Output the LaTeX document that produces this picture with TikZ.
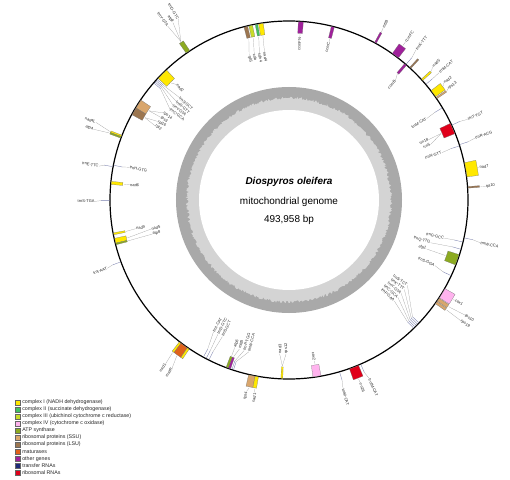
\documentclass[tikz,border=0pt]{standalone}
\usepackage{fontspec}
\setmainfont{Liberation Sans}
\usetikzlibrary{positioning}

\definecolor{cI}{HTML}{FFE800}
\definecolor{cII}{HTML}{40C060}
\definecolor{cIII}{HTML}{C8DC28}
\definecolor{cIV}{HTML}{FFB3EE}
\definecolor{atp}{HTML}{8CAA20}
\definecolor{ssu}{HTML}{D9A66C}
\definecolor{lsu}{HTML}{9C7650}
\definecolor{mat}{HTML}{E0621A}
\definecolor{oth}{HTML}{A0209B}
\definecolor{trna}{HTML}{1E2A78}
\definecolor{rrna}{HTML}{E0001A}
\definecolor{gcdark}{HTML}{A9A9A9}
\definecolor{gclight}{HTML}{D4D4D4}

% gene on the outer strand: name, colour, start angle, end angle
\newcommand{\geneout}[4]{%
  \fill[#2, draw=black!55, line width=0.2bp] (#3:179.5) arc[start angle=#3, end angle=#4, radius=179.5bp]
    -- (#4:191) arc[start angle=#4, end angle=#3, radius=191bp] -- cycle;
  \coordinate (#1) at ({(#3+#4)/2}:192);}
% gene on the inner strand
\newcommand{\genein}[4]{%
  \fill[#2, draw=black!55, line width=0.2bp] (#3:167) arc[start angle=#3, end angle=#4, radius=167bp]
    -- (#4:178.5) arc[start angle=#4, end angle=#3, radius=178.5bp] -- cycle;
  \coordinate (#1) at ({(#3+#4)/2}:166);}
% tRNA ticks
\newcommand{\trnaout}[2]{\draw[trnaline] (#2:179.5) -- (#2:188) coordinate (#1);}
\newcommand{\trnain}[2]{\draw[trnaline] (#2:178.5) -- (#2:170) coordinate (#1);}
% radial label: name, angle, radius, text, gene coordinate
\newcommand{\glabel}[5]{%
  \pgfmathsetmacro{\labrot}{cos(#2)>0 ? #2 : #2-180}%
  \pgfmathtruncatemacro{\labwest}{((#3>179)==(cos(#2)>0)) ? 1 : 0}%
  \ifnum\labwest=1 \def\labanc{west}\else\def\labanc{east}\fi
  \node[glab, rotate=\labrot, anchor=\labanc] (#1) at (#2:#3) {#4};
  \draw[lead] (#5) -- (#1.\labanc);}

\begin{document}
\begin{tikzpicture}[x=1bp,y=1bp]

% --- STYLES ---
\tikzset{
  glab/.style={font=\fontsize{4}{4.6}\selectfont, inner sep=0.3bp, text=black!85},
  lead/.style={draw=black!40, line width=0.2bp},
  trnaline/.style={draw=trna!60, line width=0.35bp},
  genome/.style={draw=black, line width=1.2bp},
  legbox/.style={draw=black!60, line width=0.3bp, minimum size=5.3bp, inner sep=0pt},
  legtext/.style={font=\fontsize{5.3}{6}\selectfont, inner sep=0.3bp, text=black!85},
  centertext/.style={font=\fontsize{10}{12}\selectfont, anchor=base},
}

\fill[white] (-289,-280) rectangle (221,200);
\useasboundingbox (-289,-280) rectangle (221,200);

% ================= GC RING =================
\fill[gcdark] (0,0) circle[radius=113bp];
\pgfmathsetseed{11}
\fill[gclight] plot[domain=0:360, samples=600] (\x:{100.5+3*rnd}) -- cycle;
\fill[white] (0,0) circle[radius=90bp];

\node[centertext] (title) at (0,15) {\bfseries\itshape Diospyros oleifera};
\node[centertext] (kind)  at (0,-4.3) {mitochondrial genome};
\node[centertext] (size)  at (0,-23) {493,958 bp};

% ================= GENOME CIRCLE =================
\draw[genome] (0,0) circle[radius=179bp];

% ================= TOP =================
\geneout{gA}{atp}{123.6}{125}
\glabel{lA1}{121.5}{212}{trnD-GTC}{gA}
\glabel{lA2}{123.2}{212}{atp9}{gA}
\glabel{lA3}{124.9}{212}{trnY-GTA}{gA}

\genein{gB1}{lsu}{103.4}{104.6}
\genein{gB2}{cIII}{101.8}{103}
\genein{gB3}{cII}{100.1}{100.9}
\genein{gB4}{cI}{98.3}{99.8}
\glabel{lB1}{105.4}{150}{rpl5}{gB1}
\glabel{lB2}{103.4}{150}{cob}{gB2}
\glabel{lB3}{101.4}{150}{sdh4}{gB3}
\glabel{lB4}{99.4}{150}{nad4}{gB4}

\genein{gC}{oth}{85.4}{87}
\glabel{lC}{86.2}{163}{ccmFN}{gC}
\genein{gD}{oth}{75.3}{76.3}
\glabel{lD}{75.8}{163}{ccmC}{gD}

% ================= UPPER RIGHT =================
\geneout{gE}{oth}{60.9}{61.5}
\glabel{lE}{61.3}{196}{mttB}{gE}
\geneout{gF}{oth}{52.4}{54.8}
\glabel{lF}{53.6}{196}{ccmFC}{gF}
\trnaout{gG}{49.2}
\glabel{lG}{49.8}{197}{trnK-TTT}{gG}
\geneout{gH}{lsu}{47.2}{47.7}
\genein{gI}{oth}{48.9}{49.7}
\glabel{lI}{48.3}{160}{ccmB}{gI}
\geneout{gJ}{cI}{41.8}{42.4}
\glabel{lJ}{42.9}{196}{nad5}{gJ}
\trnaout{gJ2}{40.2}
\glabel{lJ2}{40.3}{197}{trnM-CAT}{gJ2}
\geneout{gK}{cI}{35.2}{37.6}
\geneout{gK2}{ssu}{34.4}{34.9}
\glabel{lK}{37.1}{194}{nad2}{gK}
\glabel{lK2}{35}{194}{rps13}{gK2}
\trnain{gL}{31}
\glabel{lL}{30.6}{160}{trnM-CAT}{gL}
\trnaout{gM}{24.7}
\glabel{lM}{24.3}{196}{trnT-TGT}{gM}
\genein{gN}{rrna}{21.8}{25.4}
\glabel{lN1}{23.4}{152}{rrn18}{gN}
\glabel{lN2}{21.4}{152}{rrn5}{gN}
\trnaout{gO}{18}
\glabel{lO}{18.4}{196}{trnR-ACG}{gO}
\trnain{gP}{17.6}
\glabel{lP}{17.2}{160}{trnN-GTT}{gP}

% ================= RIGHT =================
\geneout{gQ}{cI}{7.4}{12}
\glabel{lQ}{9.7}{193}{nad7}{gQ}
\geneout{gR}{lsu}{3.8}{4.3}
\glabel{lR}{4}{197}{rpl10}{gR}
\trnaout{gS}{-12.2}
\glabel{lS}{-12.6}{196}{trnW-CCA}{gS}
\trnain{gT1}{-13.6}
\glabel{lT1}{-13.8}{160}{trnG-GCC}{gT1}
\trnain{gT2}{-16}
\glabel{lT2}{-16.8}{148}{trnQ-TTG}{gT2}
\genein{gT3}{atp}{-21.3}{-17.8}
\glabel{lT3}{-19.6}{146}{atp1}{gT3}
\trnain{gU}{-25}
\glabel{lU}{-24.2}{160}{trnS-GGA}{gU}

% ================= LOWER RIGHT =================
\geneout{gV}{cIV}{-33}{-29.6}
\glabel{lV}{-31.1}{194}{cox1}{gV}
\geneout{gV2}{ssu}{-34.3}{-33.2}
\geneout{gV3}{ssu}{-35.3}{-34.5}
\glabel{lV2}{-33.2}{210}{rps10}{gV2}
\glabel{lV3}{-35.1}{210}{rps19}{gV3}

\foreach \a [count=\k] in {-43.4,-44,-44.6,-45.2,-45.8} {\trnain{gW\k}{\a}}
\foreach \a/\t [count=\k] in {-35.8/trnS-TCT, -37.8/trnK-TTT, -39.8/trnY-GTA,
                              -41.8/trnC-GCA, -43.8/trnF-GAA} {
  \glabel{lW\k}{\a}{146}{\t}{gW\k}
}

\geneout{gX}{rrna}{-70.3}{-67.2}
\trnaout{gX2}{-66.4}
\glabel{lX2}{-65.8}{196}{trnfM-CAT}{gX2}
\glabel{lX}{-68.7}{196}{rrn26}{gX}
\trnaout{gY}{-73.6}
\glabel{lY}{-74}{196}{trnM-CAT}{gY}
\genein{gZ}{cIV}{-82.3}{-79.7}
\glabel{lZ}{-81}{163}{cox2}{gZ}

% ================= BOTTOM =================
\genein{gAA}{cI}{267.4}{268}
\glabel{lAA1}{266.5}{154}{nad3}{gAA}
\glabel{lAA2}{268.9}{154}{rps12}{gAA}

\geneout{gBB1}{ssu}{257}{259.1}
\geneout{gBB2}{cI}{259.1}{260.2}
\glabel{lBB1}{257.5}{196}{rps4}{gBB1}
\glabel{lBB2}{260}{196}{nad1}{gBB2}

\genein{gCC1}{atp}{249.4}{250.2}
\genein{gCC2}{oth}{250.2}{250.9}
\trnain{gCC3}{251.4}
\trnain{gCC4}{251.9}
\glabel{lCC1}{249.8}{157}{atp6}{gCC1}
\glabel{lCC2}{251.6}{157}{mttB}{gCC2}
\glabel{lCC3}{253.4}{157}{trnP-TGG}{gCC3}
\glabel{lCC4}{255.2}{157}{trnW-CCA}{gCC4}

\foreach \a [count=\k] in {241.4,242.4,243.4} {\trnain{gDD\k}{\a}}
\foreach \a/\t [count=\k] in {240.2/trnI-CAT, 242.1/trnD-GTC, 244/trnS-GCT} {
  \glabel{lDD\k}{\a}{152}{\t}{gDD\k}
}

\geneout{gEE1}{cI}{232.3}{233}
\geneout{gEE2}{mat}{233}{235.5}
\geneout{gEE3}{cI}{235.5}{236.2}
\glabel{lEE1}{233}{205}{nad1}{gEE1}
\glabel{lEE2}{235.2}{205}{matR}{gEE2}

% ================= LEFT =================
\trnaout{gFF}{200.2}
\glabel{lFF}{200.6}{194}{trnI-AAT}{gFF}

\genein{gGG1}{cI}{190.6}{191.2}
\genein{gGG2}{cI}{192.4}{194}
\genein{gGG3}{atp}{194}{194.5}
\glabel{lGG1}{190.6}{156}{nad9}{gGG1}
\glabel{lGG2}{191.9}{141}{nad5}{gGG2}
\glabel{lGG3}{194}{141}{atp8}{gGG3}

\trnaout{gHH}{180.2}
\glabel{lHH}{180.4}{194}{trnS-TGA}{gHH}
\genein{gII}{cI}{174}{175}
\glabel{lII}{174.5}{160}{nad6}{gII}
\trnaout{gJJ1}{169.3}
\glabel{lJJ1}{169.9}{193}{trnE-TTC}{gJJ1}
\trnain{gJJ2}{168.8}
\glabel{lJJ2}{168.4}{163}{trnH-GTG}{gJJ2}

\geneout{gKK1}{cI}{158.8}{159.3}
\geneout{gKK2}{atp}{159.3}{159.8}
\glabel{lKK1}{158.1}{208}{nad4L}{gKK1}
\glabel{lKK2}{160.1}{208}{atp4}{gKK2}

\genein{gLL1}{ssu}{146}{149}
\genein{gLL2}{lsu}{149}{151.5}
\glabel{lLL1}{145.3}{153}{rps14}{gLL1}
\glabel{lLL2}{147.2}{153}{rps3}{gLL1}
\glabel{lLL3}{149.1}{153}{rpl16}{gLL2}
\glabel{lLL4}{151}{153}{rpl2}{gLL2}

\genein{gMM}{cI}{133.3}{137.1}
\glabel{lMM}{134.2}{161}{nad2}{gMM}
\foreach \a [count=\k] in {137.6,138.1,138.6,139.1} {\trnain{gMM\k}{\a}}
\foreach \a/\t [count=\k] in {136.9/trnS-GCT, 138.8/trnN-GTT, 140.7/trnY-GTA, 142.6/trnC-GCA} {
  \glabel{lMM\k}{\a}{150}{\t}{gMM\k}
}

% ================= LEGEND =================
\foreach \col/\txt [count=\i] in {
    cI/{complex I (NADH dehydrogenase)},
    cII/{complex II (succinate dehydrogenase)},
    cIII/{complex III (ubichinol cytochrome c reductase)},
    cIV/{complex IV (cytochrome c oxidase)},
    atp/{ATP synthase},
    ssu/{ribosomal proteins (SSU)},
    lsu/{ribosomal proteins (LSU)},
    mat/{maturases},
    oth/{other genes},
    trna/{transfer RNAs},
    rrna/{ribosomal RNAs}} {
  \node[legbox, fill=\col] (leg\i) at (-271,{-202.3-7.05*(\i-1)}) {};
  \node[legtext, right=1bp of leg\i] (legt\i) {\txt};
}

\end{tikzpicture}
\end{document}
